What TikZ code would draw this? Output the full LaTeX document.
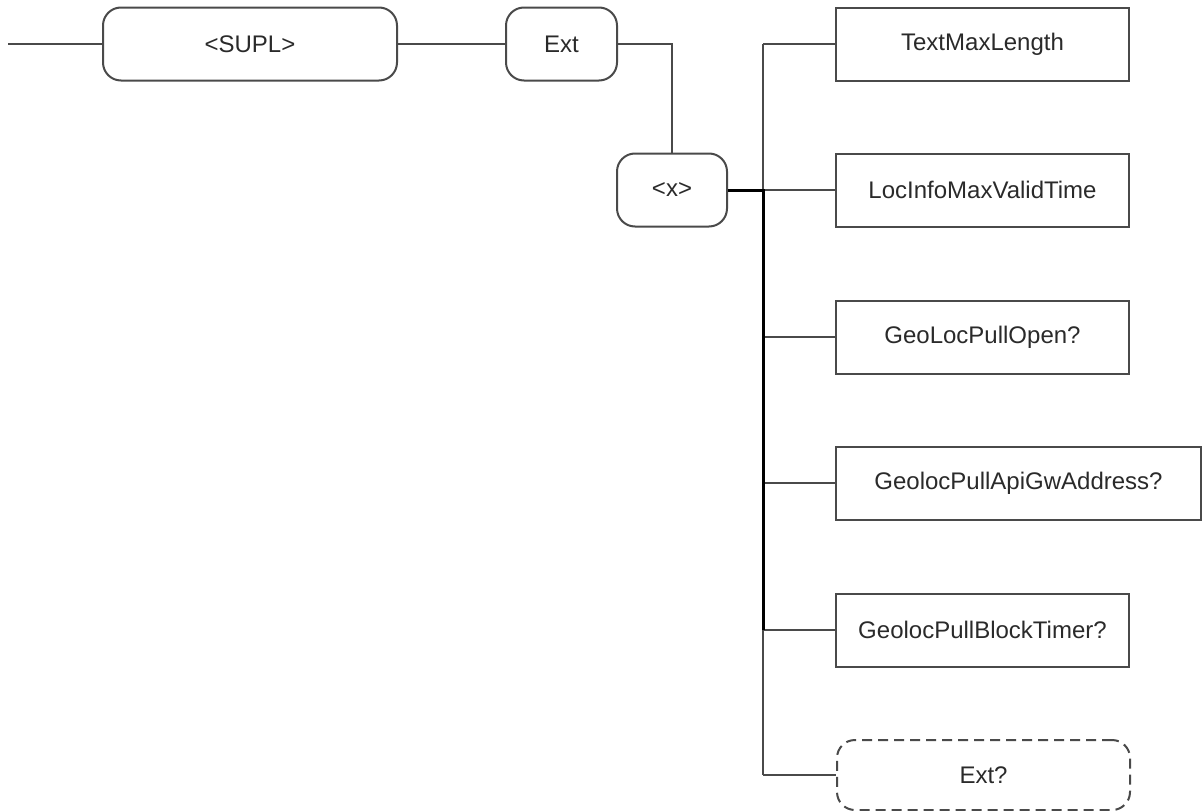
\documentclass[tikz,border=0pt]{standalone}
\usepackage{fontspec}
\setmainfont{Liberation Sans}
\definecolor{ln}{HTML}{4A4A4A}
\definecolor{tx}{HTML}{2A2A2A}
\begin{document}
\begin{tikzpicture}[x=1pt,y=-1pt,
  box/.style={draw=ln,line width=2pt,minimum height=73pt,inner sep=0pt,text=tx,font=\fontsize{24}{28}\selectfont},
  rbox/.style={box,rounded corners=18pt},
  optbox/.style={box,rounded corners=18pt,dash pattern=on 10pt off 6pt},
  conn/.style={draw=ln,line width=1.8pt},
  thickconn/.style={draw=black,line width=3pt}]
\useasboundingbox (0,0) rectangle (1202,811);
\node[rbox,minimum width=294pt] (supl) at (250,44) {<SUPL>};
\node[rbox,minimum width=111pt] (ext) at (561.5,44) {Ext};
\node[rbox,minimum width=110pt] (x) at (672,190) {<x>};
\node[box,minimum width=293pt] (t1) at (982.5,44) {TextMaxLength};
\node[box,minimum width=293pt] (t2) at (982.5,190) {LocInfoMaxValidTime};
\node[box,minimum width=293pt] (t3) at (982.5,337) {GeoLocPullOpen?};
\node[box,minimum width=365pt] (t4) at (1018.5,483) {GeolocPullApiGwAddress?};
\node[box,minimum width=293pt] (t5) at (982.5,630) {GeolocPullBlockTimer?};
\node[optbox,minimum width=293pt,minimum height=70pt] (t6) at (983.5,775) {Ext?};
\coordinate (start) at (8,44);
\coordinate (btop) at (763,44);
\coordinate (bbot) at (763,775);
\coordinate (bmid) at (763,630);
\draw[conn] (start) -- (supl.west);
\draw[conn] (supl.east) -- (ext.west);
\draw[conn] (ext.east) -| (x.north);
\draw[conn] (btop) -- (bbot);
\draw[conn] (btop) -- (t1.west);
\draw[conn] (btop |- t2.west) -- (t2.west);
\draw[conn] (btop |- t3.west) -- (t3.west);
\draw[conn] (btop |- t4.west) -- (t4.west);
\draw[conn] (btop |- t5.west) -- (t5.west);
\draw[conn] (bbot) -- (t6.west);
\draw[thickconn] (x.east) -| (bmid);
\end{tikzpicture}
\end{document}
